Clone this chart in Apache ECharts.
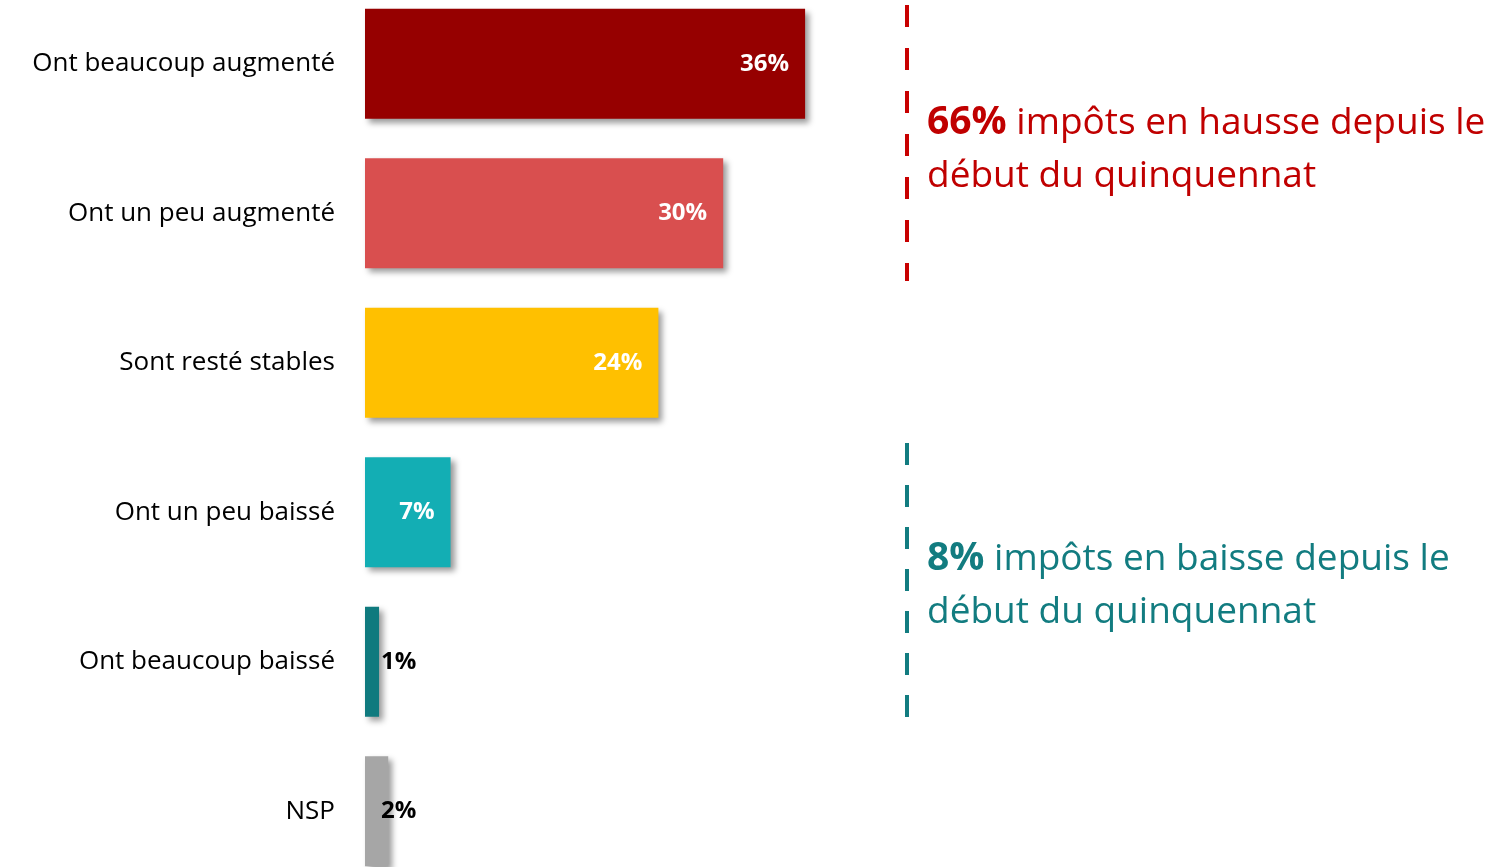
<!DOCTYPE html>
<html><head><meta charset="utf-8">
<script src="https://cdn.jsdelivr.net/npm/echarts@6/dist/echarts.min.js"></script>
<style>html,body{margin:0;padding:0;background:#fff}#c{width:1491px;height:867px}</style>
</head><body><div id="c"></div>
<script>
const categories = ["Ont beaucoup augmenté", "Ont un peu augmenté", "Sont resté stables", "Ont un peu baissé", "Ont beaucoup baissé", "NSP"];
const barValues = [36, 29.3, 24, 7, 1.15, 1.9];
const pctLabels = [36, 30, 24, 7, 1, 2];
const barColors = ["#960000", "#D94F4F", "#FFC000", "#13AEB4", "#0F7A7E", "#A6A6A6"];
const upShare = pctLabels[0] + pctLabels[1];
const downShare = pctLabels[3] + pctLabels[4];
const FONT = "'Open Sans', sans-serif";

const chart = echarts.init(document.getElementById('c'));
const data = barValues.map((v, i) => {
  const small = v < 3;
  return {
    value: v,
    itemStyle: { color: barColors[i] },
    label: small ? {
      position: [16, '50%'], align: 'left', verticalAlign: 'middle', color: '#000'
    } : {
      position: 'insideRight', distance: 16, color: '#fff'
    }
  };
});
function txt(x, y, text, color, rich) {
  return { type: 'text', x: x, y: y, style: {
    text: text, fill: color, fontSize: 37, fontFamily: FONT, fontStyle: 'normal', fontWeight: 'normal',
    verticalAlign: 'middle',
    rich: rich ? { b: { fontWeight: 'bold', fontStyle: 'normal', fontSize: 39, fill: color, fontFamily: FONT } } : undefined
  } };
}
chart.setOption({
  animation: false,
  grid: { left: 365, top: -11, width: 489, height: 897, containLabel: false, outerBoundsMode: 'none' },
  xAxis: { type: 'value', min: 0, max: 40, show: false },
  yAxis: {
    type: 'category', data: categories, inverse: true,
    axisLine: { show: false }, axisTick: { show: false },
    axisLabel: { fontSize: 26, color: '#000', margin: 30, fontFamily: FONT }
  },
  series: [{
    type: 'bar', barWidth: 110, data: data,
    itemStyle: { shadowColor: 'rgba(0,0,0,0.4)', shadowBlur: 6, shadowOffsetX: 4, shadowOffsetY: 4 },
    label: {
      show: true, fontSize: 24, fontWeight: 'bold', fontFamily: FONT,
      formatter: p => pctLabels[p.dataIndex] + '%'
    }
  }],
  graphic: [
    { type: 'line', shape: { x1: 907, y1: 5, x2: 907, y2: 281 },
      style: { stroke: '#C80000', lineWidth: 4, lineDash: [22, 21] } },
    { type: 'line', shape: { x1: 907, y1: 443, x2: 907, y2: 717 },
      style: { stroke: '#127C80', lineWidth: 4, lineDash: [22, 20] } },
    txt(927, 123, '{b|' + upShare + '%} impôts en hausse depuis le', '#C00000', true),
    txt(927, 176, 'début du quinquennat', '#C00000', false),
    txt(927, 559, '{b|' + downShare + '%} impôts en baisse depuis le', '#127C80', true),
    txt(927, 612, 'début du quinquennat', '#127C80', false)
  ]
});
</script></body></html>
